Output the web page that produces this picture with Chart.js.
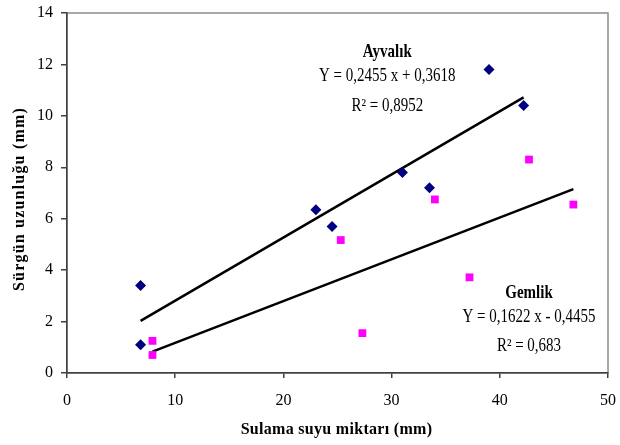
<!DOCTYPE html>
<html>
<head>
<meta charset="utf-8">
<script src="https://cdn.jsdelivr.net/npm/chart.js@4"></script>
<style>
  html, body { margin: 0; padding: 0; background: #fff; }
  #wrap { width: 620px; height: 445px; }
</style>
</head>
<body>
<div id="wrap"><canvas id="chart" width="620" height="445"></canvas></div>
<script>
// Ayvalık (lacivert eşkenar dörtgen)
const ayvalikX = [6.8, 6.8, 23.0, 24.5, 31.0, 33.5, 39.0, 42.2];
const ayvalikY = [3.4, 1.1, 6.35, 5.7, 7.8, 7.2, 11.8, 10.4];
// Gemlik (pembe kare)
const gemlikX = [7.9, 7.9, 25.3, 27.3, 34.0, 37.2, 42.7, 46.8];
const gemlikY = [1.25, 0.7, 5.17, 1.55, 6.75, 3.72, 8.3, 6.55];
// Trend çizgileri (uç noktalar)
const ayvalikTrendX = [6.8, 42.2];
const ayvalikTrendY = [2.03, 10.72];
const gemlikTrendX = [7.9, 46.8];
const gemlikTrendY = [0.83, 7.15];

const xTicks = [0, 10, 20, 30, 40, 50];
const yTicks = [0, 2, 4, 6, 8, 10, 12, 14];

const xTitle = 'Sulama suyu miktarı (mm)';
const yTitle = 'Sürgün uzunluğu (mm)';

const pts = (xs, ys) => xs.map((x, i) => ({ x: x, y: ys[i] }));

const SERIF = '"Liberation Serif", "Times New Roman", serif';

// Denklem yazıları
const notes = [
    { x: 29.6, y: 12.48, text: 'Ayvalık', bold: true },
    { x: 29.6, y: 11.55, text: 'Y = 0,2455 x + 0,3618' },
    { x: 29.6, y: 10.38, text: 'R² = 0,8952' },
    { x: 42.7, y: 3.1, text: 'Gemlik', bold: true },
    { x: 42.7, y: 2.18, text: 'Y = 0,1622 x - 0,4455' },
    { x: 42.7, y: 1.05, text: 'R² = 0,683' }
];

const plotBorder = {
    id: 'plotBorder',
    beforeDraw(chart) {
        const { ctx, chartArea: a } = chart;
        ctx.save();
        ctx.strokeStyle = '#8c8c8c';
        ctx.lineWidth = 1.5;
        ctx.strokeRect(a.left, a.top, a.right - a.left, a.bottom - a.top);
        ctx.restore();
    }
};

// eksen başlıkları (harf aralığı için elle)
const axisTitles = {
    id: 'axisTitles',
    afterDraw(chart) {
        const { ctx, chartArea: a } = chart;
        ctx.save();
        ctx.fillStyle = '#000';
        ctx.textAlign = 'center';
        ctx.textBaseline = 'middle';
        ctx.font = 'bold 16px ' + SERIF;
        ctx.letterSpacing = '0.3px';
        ctx.fillText(xTitle, (a.left + a.right) / 2 - 1, 430);
        ctx.letterSpacing = '1.2px';
        ctx.translate(20, 199);
        ctx.rotate(-Math.PI / 2);
        ctx.fillText(yTitle, 0, 0);
        ctx.restore();
    }
};

const noteText = {
    id: 'noteText',
    afterDatasetsDraw(chart) {
        const { ctx, scales } = chart;
        notes.forEach(n => {
            ctx.save();
            ctx.fillStyle = '#000';
            ctx.textAlign = 'center';
            ctx.textBaseline = 'middle';
            ctx.font = (n.bold ? 'bold ' : '') + '15px ' + SERIF;
            ctx.translate(scales.x.getPixelForValue(n.x), scales.y.getPixelForValue(n.y));
            ctx.scale(1, 1.22);
            ctx.fillText(n.text, 0, 0);
            ctx.restore();
        });
    }
};

new Chart(document.getElementById('chart').getContext('2d'), {
    type: 'scatter',
    data: {
        datasets: [
            {
                label: 'Ayvalık',
                data: pts(ayvalikX, ayvalikY),
                pointStyle: 'rectRot',
                pointRadius: 5.5,
                backgroundColor: '#000080',
                borderColor: '#000080',
                borderWidth: 0
            },
            {
                label: 'Gemlik',
                data: pts(gemlikX, gemlikY),
                pointStyle: 'rect',
                pointRadius: 5.5,
                backgroundColor: '#ff00ff',
                borderColor: '#ff00ff',
                borderWidth: 0
            },
            {
                label: 'Ayvalık trend',
                data: pts(ayvalikTrendX, ayvalikTrendY),
                showLine: true,
                pointRadius: 0,
                borderColor: '#000',
                borderWidth: 2.5
            },
            {
                label: 'Gemlik trend',
                data: pts(gemlikTrendX, gemlikTrendY),
                showLine: true,
                pointRadius: 0,
                borderColor: '#000',
                borderWidth: 2.5
            }
        ]
    },
    options: {
        responsive: false,
        animation: false,
        events: [],
        layout: { padding: { top: 13, right: 12, left: 0, bottom: 0 } },
        plugins: {
            legend: { display: false },
            tooltip: { enabled: false }
        },
        scales: {
            x: {
                type: 'linear',
                min: 0,
                max: 50,
                afterFit: s => {
                    s.height = 72;
                    s.paddingLeft = 0;
                    s.paddingRight = 0;
                },
                afterBuildTicks: s => { s.ticks = xTicks.map(v => ({ value: v })); },
                grid: { drawOnChartArea: false, tickLength: 5, color: '#404040', lineWidth: 1.5 },
                border: { color: '#404040', width: 1.5 },
                ticks: { color: '#000', padding: 13, font: { family: SERIF, size: 16 } }
            },
            y: {
                type: 'linear',
                min: 0,
                max: 14,
                afterFit: s => {
                    s.width = 67;
                    s.paddingTop = 0;
                    s.paddingBottom = 0;
                },
                afterBuildTicks: s => { s.ticks = yTicks.map(v => ({ value: v })); },
                grid: { drawOnChartArea: false, tickLength: 6, color: '#404040', lineWidth: 1.5 },
                border: { color: '#404040', width: 1.5 },
                ticks: { color: '#000', padding: 8, font: { family: SERIF, size: 16 } }
            }
        }
    },
    plugins: [plotBorder, noteText, axisTitles]
});
</script>
</body>
</html>
